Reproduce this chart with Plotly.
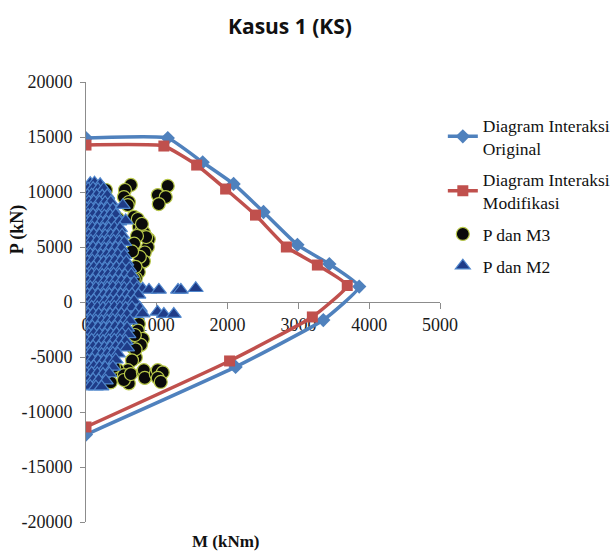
import plotly.graph_objects as go

# Interaction diagram, original section (M in kNm, P in kN)
orig_m = [0, 1155, 1648, 2085, 2507, 2986, 3437, 3859, 3352, 2113, 0]
orig_p = [14900, 14900, 12700, 10730, 8180, 5200, 3450, 1400, -1640, -5900, -12050]

# Interaction diagram, modified section
mod_m = [0, 1100, 1563, 1972, 2394, 2830, 3268, 3690, 3197, 2028, 0]
mod_p = [14270, 14180, 12450, 10270, 7900, 5000, 3360, 1500, -1360, -5360, -11360]

# Column forces: P with M3
m3 = [634, 550, 535, 606, 590, 1155, 1014, 1126, 1028, 282, 310,
      676, 746, 732, 775, 820, 887, 873, 850, 830, 803, 817, 760, 746, 704, 676, 700,
      790, 720, 680, 650,
      746, 732, 662, 803, 775, 704, 700, 650, 690, 591, 605,
      450, 535, 535, 634, 803, 817, 830, 986, 1014, 1084, 1014, 1056, 394,
      20, 10, 30, 15, 10, 200, 300, 400, 200, 300, 150, 450, 350]
p3 = [10640, 10180, 9540, 9090, 8800, 10550, 9720, 9540, 8900, 10180, 9270,
      7740, 6840, 7545, 6390, 6300, 5700, 5000, 5900, 4500, 3640, 3700, 4100, 2730, 2160, 2090, 3200,
      7100, 6000, 5300, 4600,
      -2000, -2600, -4140, -3360, -3900, -5040, -4300, -5300, -3000, -6200, -7400,
      -6180, -6640, -7090, -6550, -6360, -6200, -6900, -6540, -6200, -6400, -6900, -7270, -5900,
      9500, 8000, 6500, 5200, -5000, 5000, 3000, 0, -3000, -6000, 9800, 7600, -7300]

# Column forces: P with M2
m2 = [60, 120, 200,
      30, 100, 170, 250,
      20, 80, 150, 230, 300,
      40, 110, 190, 270, 350,
      10, 70, 140, 220, 300, 380, 520,
      30, 100, 180, 260, 340, 420,
      0, 60, 130, 210, 290, 370, 470, 560,
      20, 90, 160, 240, 320, 400, 480,
      40, 110, 190, 270, 350, 430, 510,
      10, 70, 150, 230, 310, 390, 470, 540,
      30, 100, 180, 260, 340, 420, 500,
      0, 60, 130, 210, 290, 370, 450, 540,
      20, 90, 170, 250, 330, 410, 490, 570,
      40, 110, 190, 270, 350, 430, 510, 610,
      10, 80, 150, 230, 310, 390, 470, 550, 640,
      30, 100, 180, 260, 340, 420, 500, 580, 680,
      0, 60, 140, 220, 300, 380, 460, 540, 620, 720, 800,
      890, 1030, 1300, 1340, 1550,
      20, 90, 170, 250, 330, 410, 490, 570, 650, 740,
      40, 110, 190, 270, 350, 430, 510, 590, 680,
      10, 80, 160, 240, 320, 400, 480, 560, 650, 760,
      30, 100, 180, 260, 340, 420, 500, 580, 700, 800,
      1010, 1100, 1240,
      0, 60, 140, 220, 300, 380, 460, 540, 620,
      20, 90, 170, 250, 330, 410, 490, 580,
      40, 110, 190, 270, 350, 430, 510, 600,
      10, 80, 160, 240, 320, 400, 480, 560,
      30, 100, 180, 260, 340, 420, 500, 580,
      0, 60, 140, 220, 300, 380, 450,
      20, 90, 170, 250, 330, 420,
      40, 110, 190, 270, 380,
      10, 80, 160, 240, 330,
      30, 100, 180, 280,
      0, 60, 140, 220]
p2 = [10800, 10850, 10700,
      10300, 10350, 10250, 10300,
      9700, 9750, 9700, 9650, 9700,
      9100, 9150, 9100, 9050, 9100,
      8500, 8550, 8500, 8450, 8500, 8450, 8800,
      7900, 7950, 7900, 7850, 7900, 7950,
      7300, 7350, 7300, 7250, 7300, 7350, 7300, 7400,
      6700, 6750, 6700, 6650, 6700, 6750, 6700,
      6100, 6150, 6100, 6050, 6100, 6150, 6100,
      5500, 5550, 5500, 5450, 5500, 5550, 5500, 5450,
      4900, 4950, 4900, 4850, 4900, 4950, 4900,
      4300, 4350, 4300, 4250, 4300, 4350, 4300, 4250,
      3700, 3750, 3700, 3650, 3700, 3750, 3700, 3650,
      3100, 3150, 3100, 3050, 3100, 3150, 3100, 3050,
      2500, 2550, 2500, 2450, 2500, 2550, 2500, 2450, 2500,
      1900, 1950, 1900, 1850, 1900, 1950, 1900, 1850, 1800,
      1300, 1350, 1300, 1250, 1300, 1350, 1300, 1250, 1300, 1250, 1200,
      1100, 1100, 1100, 1100, 1250,
      700, 750, 700, 650, 700, 750, 700, 650, 700, 650,
      100, 150, 100, 50, 100, 150, 100, 50, 100,
      -500, -450, -500, -550, -500, -450, -500, -550, -500, -550,
      -1100, -1050, -1100, -1150, -1100, -1050, -1100, -1150, -1100, -1050,
      -900, -1100, -1100,
      -1700, -1650, -1700, -1750, -1700, -1650, -1700, -1750, -1700,
      -2300, -2250, -2300, -2350, -2300, -2250, -2300, -2350,
      -2900, -2850, -2900, -2950, -2900, -2850, -2900, -2950,
      -3500, -3450, -3500, -3550, -3500, -3450, -3500, -3550,
      -4100, -4050, -4100, -4150, -4100, -4050, -4100, -4150,
      -4700, -4650, -4700, -4750, -4700, -4650, -4700,
      -5300, -5250, -5300, -5350, -5300, -5250,
      -5900, -5850, -5900, -5950, -5900,
      -6500, -6450, -6500, -6550, -6500,
      -7100, -7050, -7100, -7150,
      -7700, -7650, -7700, -7700]

x_ticks = [0, 1000, 2000, 3000, 4000, 5000]
x_tick_text = ["0", "1000", "2000", "3000", "4000", "5000"]
y_ticks = [-20000, -15000, -10000, -5000, 0, 5000, 10000, 15000, 20000]
y_tick_text = ["-20000", "-15000", "-10000", "-5000", "0", "5000", "10000", "15000", "20000"]

serif = "Liberation Serif"

fig = go.Figure()
fig.add_trace(go.Scatter(
    x=orig_m, y=orig_p, mode="lines+markers",
    name="Diagram Interaksi<br>Original", legendgroup="a",
    line=dict(color="#4F81BD", width=3.5, shape="spline", smoothing=0.4),
    marker=dict(symbol="diamond", size=11, color="#4F81BD"),
))
fig.add_trace(go.Scatter(
    x=mod_m, y=mod_p, mode="lines+markers",
    name="Diagram Interaksi<br>Modifikasi", legendgroup="b",
    line=dict(color="#C0504D", width=3.5, shape="spline", smoothing=0.4),
    marker=dict(symbol="square", size=11, color="#C0504D"),
))
fig.add_trace(go.Scatter(
    x=m3, y=p3, mode="markers", name="P dan M3", legendgroup="c",
    marker=dict(symbol="circle", size=13, color="#0a0a0a",
                line=dict(color="#B9C94A", width=1.2)),
))
fig.add_trace(go.Scatter(
    x=m2, y=p2, mode="markers", name="P dan M2", legendgroup="d",
    marker=dict(symbol="triangle-up", size=13, color="#1F3C88",
                line=dict(color="#4F86CC", width=1.2)),
))

axis_font = dict(family=serif, size=18, color="#1a1a1a")

fig.update_layout(
    width=612, height=555,
    margin=dict(l=86, r=172, t=82, b=33, autoexpand=False),
    paper_bgcolor="white", plot_bgcolor="white",
    showlegend=True,
    title=dict(text="<b>Kasus 1 (KS)</b>", x=290 / 612, xanchor="center",
               y=1 - 27 / 555, yanchor="middle",
               font=dict(family="Open Sans", size=21, color="#111")),
    xaxis=dict(range=[0, 5000], tickvals=x_ticks, ticktext=x_tick_text,
               showgrid=False, zeroline=False, showline=True,
               linecolor="#8c8c8c", linewidth=1,
               ticks="outside", ticklen=6, tickcolor="#8c8c8c",
               anchor="free", position=0.5, layer="below traces",
               tickfont=axis_font),
    yaxis=dict(range=[-20000, 20000], tickvals=y_ticks, ticktext=y_tick_text,
               showgrid=False, zeroline=False, showline=True,
               linecolor="#8c8c8c", linewidth=1,
               ticks="outside", ticklen=5, tickcolor="#8c8c8c",
               ticklabelstandoff=4, layer="below traces",
               tickfont=axis_font),
    legend=dict(x=1.008, y=0.943, xanchor="left", yanchor="top",
                itemwidth=30, tracegroupgap=6,
                font=dict(family=serif, size=17.5, color="#111"),
                bgcolor="rgba(0,0,0,0)", traceorder="grouped"),
    annotations=[
        dict(text="<b>P (kN)</b>", xref="paper", yref="paper",
             x=-0.195, y=0.665, textangle=-90, showarrow=False,
             xanchor="center", yanchor="middle",
             font=dict(family=serif, size=18, color="#111")),
        dict(text="<b>M (kNm)</b>", xref="paper", yref="paper",
             x=(226 - 86) / 354, y=-0.045, showarrow=False,
             xanchor="center", yanchor="middle",
             font=dict(family=serif, size=17, color="#111")),
    ],
)

fig.write_html("out.html")
